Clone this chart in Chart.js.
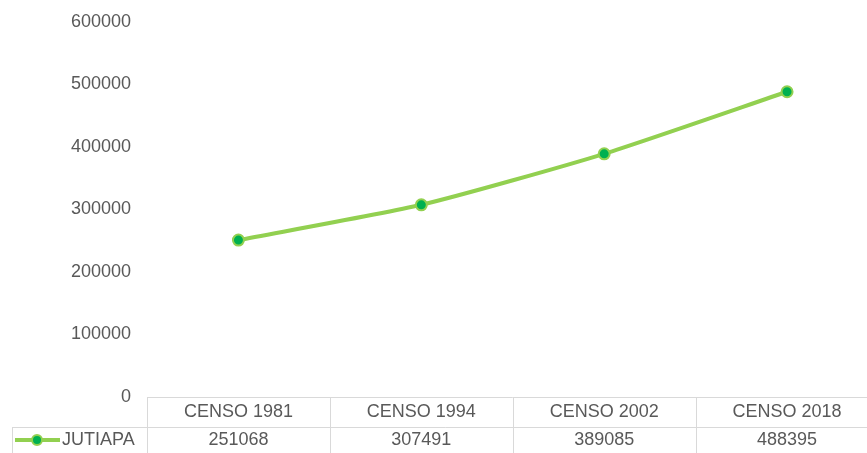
<!DOCTYPE html>
<html>
<head>
<meta charset="utf-8">
<script src="https://cdn.jsdelivr.net/npm/chart.js@4"></script>
<style>
  html, body { margin: 0; padding: 0; background: #fff; overflow: hidden; }
  #wrap { width: 886px; height: 453px; }
</style>
</head>
<body>
<div id="wrap"><canvas id="chart" width="886" height="453"></canvas></div>
<script>
const categories = ['CENSO 1981', 'CENSO 1994', 'CENSO 2002', 'CENSO 2018'];
const seriesName = 'JUTIAPA';
const values = [251068, 307491, 389085, 488395];
const yTicks = [0, 100000, 200000, 300000, 400000, 500000, 600000];

const FONT = '"Liberation Sans", Arial, sans-serif';
const TEXT = '#595959';
const GRID = '#d9d9d9';
const LINE = '#92D050';
const MARK = '#00B050';

// draws the data table under the plot
const tablePlugin = {
  id: 'dataTable',
  afterDraw(chart) {
    const ctx = chart.ctx;
    const xs = chart.scales.x;
    const area = chart.chartArea;
    const top = area.bottom;
    const mid = top + 30;
    const bot = 453;
    const tableLeft = 12;
    const n = categories.length;
    const colW = (area.right - area.left) / n;
    ctx.save();
    ctx.strokeStyle = GRID;
    ctx.lineWidth = 1;
    ctx.beginPath();
    ctx.moveTo(area.left, top + 0.5); ctx.lineTo(area.right, top + 0.5);
    ctx.moveTo(tableLeft, mid + 0.5); ctx.lineTo(area.right, mid + 0.5);
    ctx.moveTo(tableLeft + 0.5, mid); ctx.lineTo(tableLeft + 0.5, bot);
    for (let i = 0; i <= n; i++) {
      const x = Math.round(area.left + colW * i) + 0.5;
      ctx.moveTo(x, top); ctx.lineTo(x, bot);
    }
    ctx.stroke();

    ctx.fillStyle = TEXT;
    ctx.font = '18px ' + FONT;
    ctx.textAlign = 'center';
    ctx.textBaseline = 'middle';
    categories.forEach((c, i) => {
      const x = xs.getPixelForValue(i);
      ctx.fillText(c, x, top + 15);
      ctx.fillText(String(values[i]), x, mid + 13);
    });

    // legend key
    const ky = mid + 13;
    ctx.strokeStyle = LINE;
    ctx.lineWidth = 4;
    ctx.beginPath();
    ctx.moveTo(15, ky); ctx.lineTo(60, ky);
    ctx.stroke();
    ctx.beginPath();
    ctx.arc(37, ky, 5, 0, Math.PI * 2);
    ctx.fillStyle = MARK;
    ctx.fill();
    ctx.lineWidth = 2;
    ctx.stroke();
    ctx.fillStyle = TEXT;
    ctx.textAlign = 'left';
    ctx.fillText(seriesName, 62, ky);
    ctx.restore();
  }
};

const ctx = document.getElementById('chart').getContext('2d');
const chart = new Chart(ctx, {
  type: 'line',
  data: {
    labels: categories,
    datasets: [{
      label: seriesName,
      data: values,
      borderColor: LINE,
      borderWidth: 4,
      tension: 0.2,
      pointRadius: 5.5,
      pointBackgroundColor: MARK,
      pointBorderColor: LINE,
      pointBorderWidth: 2
    }]
  },
  options: {
    responsive: false,
    animation: false,
    layout: { padding: { top: 22, bottom: 56, left: 0, right: 0 } },
    plugins: { legend: { display: false }, tooltip: { enabled: false } },
    scales: {
      x: { display: false, offset: true },
      y: {
        min: 0, max: 600000,
        afterBuildTicks: s => { s.ticks = yTicks.map(v => ({ value: v })); },
        grid: { display: false },
        border: { display: false },
        ticks: {
          color: TEXT, font: { family: FONT, size: 18 }, padding: 8,
          callback: v => String(v)
        },
        afterFit: s => { s.width = 147; }
      }
    }
  },
  plugins: [tablePlugin]
});
</script>
</body>
</html>
